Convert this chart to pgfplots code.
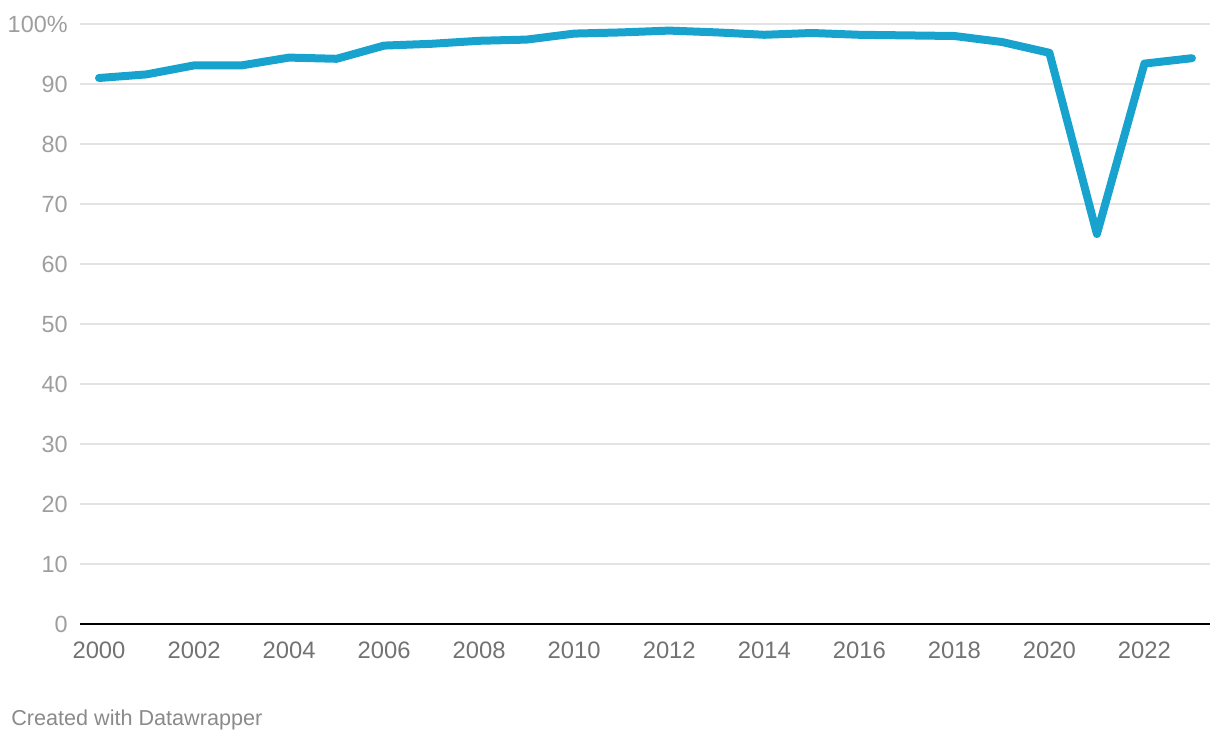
\documentclass[border=0pt]{standalone}
\usepackage{fontspec}
\setmainfont{Liberation Sans}
\usepackage{pgfplots}
\pgfplotsset{compat=1.18}
\definecolor{linec}{HTML}{18A3CF}
\definecolor{gridc}{HTML}{E3E3E3}
\definecolor{ylab}{HTML}{9E9E9E}
\definecolor{xlab}{HTML}{727272}
\definecolor{foot}{HTML}{8A8A8A}
\begin{document}
\begin{tikzpicture}
\path[use as bounding box] (-40pt,-58pt) rectangle (570pt,312pt);
\begin{axis}[
  at={(0,0)}, anchor=south west,
  scale only axis, width=565pt, height=300pt,
  xmin=1999.6, xmax=2023.38, ymin=0, ymax=100,
  clip=false,
  axis line style={draw=none},
  major tick length=0pt,
  ytick={0,10,...,100},
  yticklabels={0,10,20,30,40,50,60,70,80,90,100\%},
  xtick={2000,2002,...,2022},
  xticklabels={2000,2002,2004,2006,2008,2010,2012,2014,2016,2018,2020,2022},
  ymajorgrids,
  major grid style={draw=gridc, line width=0.75pt},
  yticklabel style={anchor=east, inner sep=0pt, xshift=-6pt, text=ylab, font=\fontsize{11.7}{14}\selectfont},
  xticklabel style={anchor=north, inner sep=0pt, yshift=-8.5pt, text=xlab, font=\fontsize{11.9}{14}\selectfont},
]
\addplot[linec, line width=4pt, line cap=round, line join=round] coordinates {
(2000,91.0) (2001,91.6) (2002,93.1) (2003,93.1) (2004,94.4) (2005,94.2)
(2006,96.4) (2007,96.7) (2008,97.2) (2009,97.4) (2010,98.4) (2011,98.6)
(2012,98.9) (2013,98.6) (2014,98.2) (2015,98.5) (2016,98.2) (2017,98.1)
(2018,98.0) (2019,97.0) (2020,95.2) (2021,65.0) (2022,93.4) (2023,94.3)
};
\draw[black, line width=1pt] (rel axis cs:0,0) -- (rel axis cs:1,0);
\end{axis}
\node[anchor=west, inner sep=0pt, text=foot, font=\fontsize{10.8}{13}\selectfont] at (-34.5pt,-48pt) {Created with Datawrapper};
\end{tikzpicture}
\end{document}
